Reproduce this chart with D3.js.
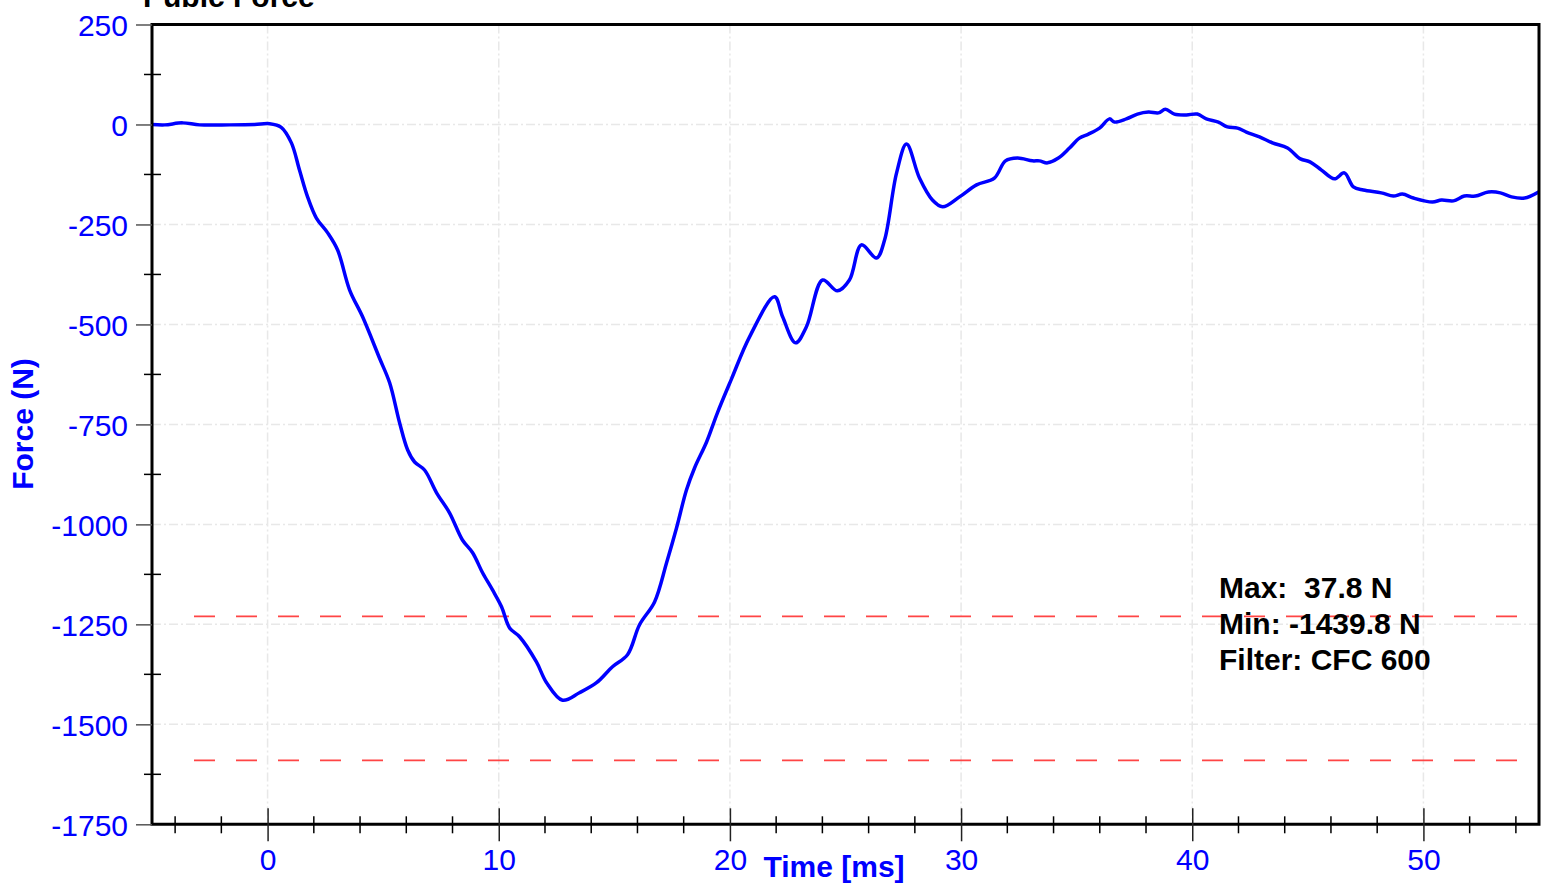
<!DOCTYPE html>
<html><head><meta charset="utf-8">
<script src="https://cdn.jsdelivr.net/npm/d3@7"></script>
<style>
body{margin:0;background:#fff}
svg{display:block}
text{font-family:"Liberation Sans",Arial,Helvetica,sans-serif}
</style>
</head><body>
<svg id="chart" width="1549" height="886"></svg>
<script>
const chartTitle = "Pubic Force";
const xAxisTitle = "Time [ms]";
const yAxisTitle = "Force (N)";

const timeMs = [-5,-4.45,-3.68,-2.94,-1.64,-0.56,0.09,0.59,1.03,1.38,1.73,2.11,2.6,3.03,3.55,4.11,4.84,5.28,5.71,6.06,6.36,6.79,7.31,7.87,8.43,8.87,9.3,9.73,10.12,10.47,10.9,11.63,12.07,12.76,13.49,14.23,14.92,15.57,16.09,16.74,17.26,17.69,18.12,18.47,18.99,19.46,20.07,20.85,21.93,22.28,22.84,23.31,24.01,24.65,25.17,25.69,26.34,26.69,27.21,27.64,28.2,28.76,29.2,29.93,30.67,31.44,31.92,32.44,33.09,33.39,33.74,34.21,34.69,35.12,35.51,35.99,36.42,36.63,37.15,37.63,38.11,38.54,38.84,39.23,39.75,40.22,40.61,41.13,41.52,41.96,42.34,42.91,43.47,44.12,44.68,45.11,45.59,46.15,46.58,46.97,47.4,48.18,48.7,49.09,49.57,50.39,50.78,51.3,51.77,52.25,52.81,53.33,53.81,54.37,55];
const forceN = [0,-1,4,-1,-1,0,2,-7,-46,-114,-181,-234,-271,-314,-414,-481,-584,-646,-746,-814,-844,-864,-921,-971,-1039,-1071,-1121,-1164,-1206,-1259,-1281,-1344,-1396,-1439.8,-1421,-1396,-1356,-1326,-1251,-1194,-1096,-1009,-914,-859,-794,-721,-636,-531,-431,-481,-546,-506,-389,-416,-389,-301,-334,-289,-121,-49,-134,-189,-206,-181,-151,-134,-91,-84,-91,-91,-96,-84,-59,-34,-24,-9,14,6,14,26,31,29,37.8,26,24,26,14,6,-6,-9,-19,-31,-46,-59,-86,-94,-114,-136,-121,-156,-164,-171,-179,-174,-184,-194,-189,-191,-179,-179,-169,-171,-181,-184,-168];

const xMajorTicks = [0,10,20,30,40,50];
const xMinorTicks = [-4,-2,2,4,6,8,12,14,16,18,22,24,26,28,32,34,36,38,42,44,46,48,52,54];
const yMajorTicks = [250,0,-250,-500,-750,-1000,-1250,-1500,-1750];
const yMinorTicks = [125,-125,-375,-625,-875,-1125,-1375,-1625];
const thresholdLines = [-1230,-1590];
const statLines = ["Max:  37.8 N","Min: -1439.8 N","Filter: CFC 600"];

const svg = d3.select("#chart");
const L = 152, R = 1539, T = 24.5, B = 824.3;
const x = d3.scaleLinear().domain([-5,55]).range([L,R]);
const y = d3.scaleLinear().domain([-1750,250]).range([B,T]);
const blue = "#0000ff";

// grid
const grid = svg.append("g").attr("stroke","#e8e8e8").attr("stroke-width",1.5).attr("stroke-dasharray","9,3,2,3");
grid.selectAll("line.gx").data(xMajorTicks).join("line").attr("class","gx")
  .attr("x1",d=>x(d)).attr("x2",d=>x(d)).attr("y1",T).attr("y2",B);
grid.selectAll("line.gy").data(yMajorTicks.filter(d=>d>-1750&&d<250)).join("line").attr("class","gy")
  .attr("y1",d=>y(d)).attr("y2",d=>y(d)).attr("x1",L).attr("x2",R);

// threshold lines
svg.append("g").selectAll("line").data(thresholdLines).join("line")
  .attr("x1",L+21).attr("x2",R).attr("y1",d=>y(d)).attr("y2",d=>y(d))
  .attr("stroke","#ff4545").attr("stroke-width",1.8)
  .attr("stroke-dasharray","21,21").attr("stroke-dashoffset",21);

// curve
svg.append("clipPath").attr("id","clip").append("rect").attr("x",L).attr("y",T).attr("width",R-L).attr("height",B-T);
const pts = timeMs.map((t,i)=>[t,forceN[i]]);
const line = d3.line().x(d=>x(d[0])).y(d=>y(d[1])).curve(d3.curveCatmullRom.alpha(0.5));
svg.append("path").datum(pts).attr("d",line).attr("fill","none")
  .attr("stroke",blue).attr("stroke-width",3.5).attr("stroke-linejoin","round")
  .attr("clip-path","url(#clip)");

// frame
svg.append("path").attr("d",`M${L},${T}H${R}V${B}H${L}Z`).attr("fill","none").attr("stroke","#000").attr("stroke-width",3);

// y axis
const yAxis = d3.axisLeft(y).tickValues(yMajorTicks).tickSize(16).tickPadding(8).tickFormat(d=>String(d));
const gy = svg.append("g").attr("transform",`translate(${L},0)`).call(yAxis);
gy.select(".domain").remove();
gy.selectAll(".tick line").attr("stroke","#555").attr("stroke-width",1.5);
gy.selectAll(".tick text").attr("fill",blue).attr("font-size",30).attr("x",-24).attr("dy","0.36em")
  .attr("font-family","'Liberation Sans',Arial,sans-serif");
svg.append("g").selectAll("line").data(yMinorTicks).join("line")
  .attr("x1",L-8).attr("x2",L+9).attr("y1",d=>y(d)).attr("y2",d=>y(d))
  .attr("stroke","#000").attr("stroke-width",1.5);

// x axis
const xAxis = d3.axisBottom(x).tickValues(xMajorTicks).tickSize(17).tickPadding(8).tickFormat(d=>String(d));
const gx = svg.append("g").attr("transform",`translate(0,${B})`).call(xAxis);
gx.select(".domain").remove();
gx.selectAll(".tick line").attr("y1",-16).attr("stroke","#222").attr("stroke-width",1.5);
gx.selectAll(".tick text").attr("fill",blue).attr("font-size",30).attr("y",46).attr("dy",0)
  .attr("font-family","'Liberation Sans',Arial,sans-serif");
svg.append("g").selectAll("line").data(xMinorTicks).join("line")
  .attr("x1",d=>x(d)).attr("x2",d=>x(d)).attr("y1",B-8).attr("y2",B+9)
  .attr("stroke","#000").attr("stroke-width",1.5);

// titles
svg.append("text").attr("x",143).attr("y",7).attr("font-size",30).attr("font-weight","bold").attr("fill","#000").text(chartTitle);
svg.append("text").attr("x",834).attr("y",877).attr("text-anchor","middle").attr("font-size",30).attr("font-weight","bold").attr("fill",blue).text(xAxisTitle);
svg.append("text").attr("transform","translate(33,424) rotate(-90)").attr("text-anchor","middle").attr("font-size",30).attr("font-weight","bold").attr("fill",blue).text(yAxisTitle);

// stats
svg.append("g").selectAll("text").data(statLines).join("text")
  .attr("x",1219).attr("y",(d,i)=>598+i*36).attr("font-size",30).attr("font-weight","bold")
  .attr("fill","#000").style("white-space","pre").attr("xml:space","preserve").text(d=>d);
</script>
</body></html>
